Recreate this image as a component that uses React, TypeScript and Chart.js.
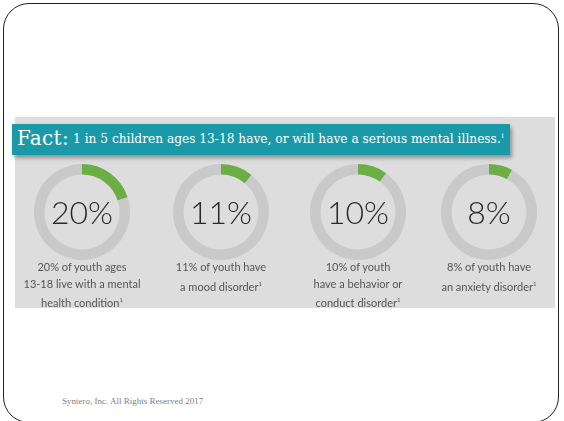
import React, { useEffect, useRef } from "react";
import { Chart, registerables } from "chart.js";

Chart.register(...registerables);

const percents = [20, 11, 10, 8];
const bigLabels = ["20%", "11%", "10%", "8%"];
const captions = [
  ["20% of youth ages", "13-18 live with a mental", "health condition"],
  ["11% of youth have", "a mood disorder"],
  ["10% of youth", "have a behavior or", "conduct disorder"],
  ["8% of youth have", "an anxiety disorder"],
];
const centersX = [82, 221, 358, 489];
const factLead = "Fact:";
const factText = "1 in 5 children ages 13-18 have, or will have a serious mental illness.";
const footer = "Syntero, Inc. All Rights Reserved 2017";

const GREEN = "#6aae44";
const RING = "#c9c9c9";
const CY = 212;
const R = 48;

function Donut({ value, cx }: { value: number; cx: number }) {
  const ref = useRef<HTMLCanvasElement | null>(null);
  useEffect(() => {
    if (!ref.current) return;
    const chart = new Chart(ref.current, {
      type: "doughnut",
      data: {
        labels: ["yes", "no"],
        datasets: [
          {
            data: [value, 100 - value],
            backgroundColor: [GREEN, RING],
            borderWidth: 0,
          },
        ],
      },
      options: {
        responsive: false,
        animation: false,
        cutout: "78%",
        layout: { padding: 0 },
        plugins: { legend: { display: false }, tooltip: { enabled: false } },
        events: [],
      },
    });
    return () => chart.destroy();
  }, [value]);
  return (
    <canvas
      ref={ref}
      width={R * 2}
      height={R * 2}
      style={{ position: "absolute", left: cx - R, top: CY - R, width: R * 2, height: R * 2 }}
    />
  );
}

export default function App() {
  return (
    <div
      style={{
        position: "absolute",
        left: 0,
        top: 0,
        width: 564,
        height: 421,
        overflow: "hidden",
        background: "#ffffff",
      }}
    >
      {/* slide border */}
      <div
        style={{
          position: "absolute",
          left: 3,
          top: 3,
          width: 556,
          height: 420,
          border: "1.3px solid #222",
          borderRadius: 26,
          boxSizing: "border-box",
        }}
      />
      {/* grey panel */}
      <div
        style={{
          position: "absolute",
          left: 15,
          top: 117,
          width: 540,
          height: 191,
          background: "#dddddd",
        }}
      />
      {/* teal banner */}
      <div
        style={{
          position: "absolute",
          left: 12,
          top: 124,
          width: 498,
          height: 31,
          background: "#1a9aa8",
          boxShadow: "2px 3px 4px rgba(0,0,0,0.35)",
          color: "#ffffff",
          whiteSpace: "nowrap",
          fontFamily: "'DejaVu Serif', serif",
        }}
      >
        <span style={{ position: "absolute", left: 5, top: 2, fontSize: 20, letterSpacing: 0.3 }}>{factLead}</span>
        <span style={{ position: "absolute", left: 61, top: 8, fontSize: 12.2, letterSpacing: 0 }}>
          {factText}
          <sup style={{ fontSize: 6 }}>1</sup>
        </span>
      </div>
      {percents.map((p, i) => (
        <Donut key={i} value={p} cx={centersX[i]} />
      ))}
      {bigLabels.map((t, i) => (
        <div
          key={"b" + i}
          style={{
            position: "absolute",
            left: centersX[i] - 50,
            top: CY - 22,
            width: 100,
            height: 44,
            lineHeight: "44px",
            textAlign: "center",
            fontFamily: "Lato, sans-serif",
            fontWeight: 300,
            fontSize: 32,
            color: "#2a2a2a",
          }}
        >
          {t}
        </div>
      ))}
      {captions.map((lines, i) => (
        <div
          key={"c" + i}
          style={{
            position: "absolute",
            left: centersX[i] - 70,
            top: 259,
            width: 140,
            textAlign: "center",
            fontFamily: "Lato, sans-serif",
            fontSize: 11,
            lineHeight: "16.5px",
            color: "#555555",
          }}
        >
          {lines.map((l, j) => (
            <div key={j}>
              {l}
              {j === lines.length - 1 ? <sup style={{ fontSize: 6 }}>1</sup> : null}
            </div>
          ))}
        </div>
      ))}
      <div
        style={{
          position: "absolute",
          left: 62,
          top: 396,
          fontFamily: "'Liberation Serif', serif",
          fontSize: 9,
          color: "#808080",
          whiteSpace: "nowrap",
        }}
      >
        {footer}
      </div>
    </div>
  );
}
